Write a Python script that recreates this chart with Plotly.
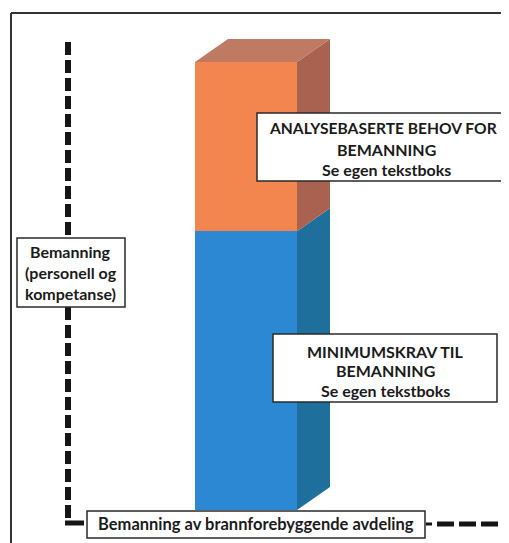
import plotly.graph_objects as go

# ---- data (arbitrary staffing units) ----
categories = ["Bemanning av brannforebyggende avdeling"]
minimumskrav = [5.6]      # blue, lower segment
analysebasert = [3.4]     # orange, upper segment
series_names = ["MINIMUMSKRAV TIL BEMANNING", "ANALYSEBASERTE BEHOV FOR BEMANNING"]

# page body has an 8px margin: figure is placed at (8, 8)
OFF = 8
W, H = 509 - OFF, 543 - OFF
BASE_PX, TOP_PX = 510, 62            # reference pixel rows of bar base / bar top
BAR_LEFT_PX, BAR_RIGHT_PX = 195, 297
DEPTH_X_PX, DEPTH_Y_PX = 33, 23

total = minimumskrav[0] + analysebasert[0]
py_per_unit = (BASE_PX - TOP_PX) / total
px_per_unit = (BAR_RIGHT_PX - BAR_LEFT_PX) / 1.0
center_px = (BAR_LEFT_PX + BAR_RIGHT_PX) / 2 - OFF
base_fig = BASE_PX - OFF
x_range = [-center_px / px_per_unit, (W - center_px) / px_per_unit]
y_range = [-(H - base_fig) / py_per_unit, base_fig / py_per_unit]
dx = DEPTH_X_PX / px_per_unit
dy = DEPTH_Y_PX / py_per_unit

ORANGE, ORANGE_SIDE, ORANGE_TOP = "#F3854F", "#A9624F", "#BE7A62"
BLUE, BLUE_SIDE = "#2C88D3", "#1F6F9C"

fig = go.Figure()
fig.add_trace(go.Bar(x=[0], y=minimumskrav, width=1, name=series_names[0],
                     marker=dict(color=BLUE, line=dict(width=0)),
                     hovertext=categories, showlegend=False))
fig.add_trace(go.Bar(x=[0], y=analysebasert, width=1, name=series_names[1],
                     marker=dict(color=ORANGE, line=dict(width=0)),
                     hovertext=categories, showlegend=False))

# 3D faces derived from the same values
x0, x1 = -0.5, 0.5
split = minimumskrav[0]
top = split + analysebasert[0]
faces = [
    ([x1, x1 + dx, x1 + dx, x1, x1], [0, dy, split + dy, split, 0], BLUE_SIDE),
    ([x1, x1 + dx, x1 + dx, x1, x1], [split, split + dy, top + dy, top, split], ORANGE_SIDE),
    ([x0, x0 + dx, x1 + dx, x1, x0], [top, top + dy, top + dy, top, top], ORANGE_TOP),
]
for fx, fy, col in faces:
    fig.add_trace(go.Scatter(x=fx, y=fy, mode="lines", fill="toself", fillcolor=col,
                             line=dict(width=0, color=col), hoverinfo="skip", showlegend=False))


def px(x):
    return (x - OFF) / W


def py(y):
    return 1 - (y - OFF) / H


shapes = []
# outer frame (left & top visible)
shapes.append(dict(type="line", xref="paper", yref="paper", x0=px(11), y0=py(13), x1=px(520), y1=py(13),
                   line=dict(color="#333333", width=2)))
shapes.append(dict(type="line", xref="paper", yref="paper", x0=px(11), y0=py(13), x1=px(11), y1=py(560),
                   line=dict(color="#333333", width=2)))
# dashed y axis
axis_line = dict(color="#151515", width=6, dash="13px,5px")
shapes.append(dict(type="line", xref="paper", yref="paper", x0=px(68), y0=py(42), x1=px(68), y1=py(238), line=axis_line))
shapes.append(dict(type="line", xref="paper", yref="paper", x0=px(68), y0=py(307), x1=px(68), y1=py(523), line=axis_line))
shapes.append(dict(type="line", xref="paper", yref="paper", x0=px(65), y0=py(523), x1=px(84), y1=py(523),
                   line=dict(color="#151515", width=5)))
# dashed x axis (right of the label box)
shapes.append(dict(type="line", xref="paper", yref="paper", x0=px(426), y0=py(524), x1=px(432), y1=py(524),
                   line=dict(color="#151515", width=3)))
shapes.append(dict(type="line", xref="paper", yref="paper", x0=px(437), y0=py(524), x1=px(501), y1=py(524),
                   line=dict(color="#151515", width=5, dash="17px,5px")))

# text boxes
boxes = [(257, 113, 520, 181), (273, 334, 497, 402), (17, 238, 125, 307), (87, 511, 425, 538)]
for bx0, by0, bx1, by1 in boxes:
    shapes.append(dict(type="rect", xref="paper", yref="paper", x0=px(bx0), y0=py(by0), x1=px(bx1), y1=py(by1),
                       fillcolor="white", line=dict(color="#2a2a2a", width=1.5), layer="above"))

FONT = "Lato"
annotations = []


def line(text, cx, cy, size, bold=True, color="#1a1a1a"):
    t = f"<b>{text}</b>" if bold else text
    annotations.append(dict(text=t, xref="paper", yref="paper", x=px(cx), y=py(cy), showarrow=False,
                            xanchor="center", yanchor="middle",
                            font=dict(family=FONT, size=size, color=color)))


line("ANALYSEBASERTE BEHOV FOR", 383, 128, 15.6)
line("BEMANNING", 386, 149, 16)
line("Se egen tekstboks", 386, 169, 16)
line("MINIMUMSKRAV TIL", 385, 351, 16)
line("BEMANNING", 385, 370, 16)
line("Se egen tekstboks", 385, 390, 16)
line("Bemanning", 71, 252, 16)
line("(personell og", 71, 273, 16)
line("kompetanse)", 71, 293, 16)
line(categories[0], 256, 524, 16.5)

fig.update_layout(
    width=W, height=H, margin=dict(l=0, r=0, t=0, b=0),
    paper_bgcolor="white", plot_bgcolor="white",
    barmode="stack", bargap=0,
    xaxis=dict(range=x_range, visible=False, fixedrange=True),
    yaxis=dict(range=y_range, visible=False, fixedrange=True),
    shapes=shapes, annotations=annotations, showlegend=False,
)
fig.write_html("out.html")
